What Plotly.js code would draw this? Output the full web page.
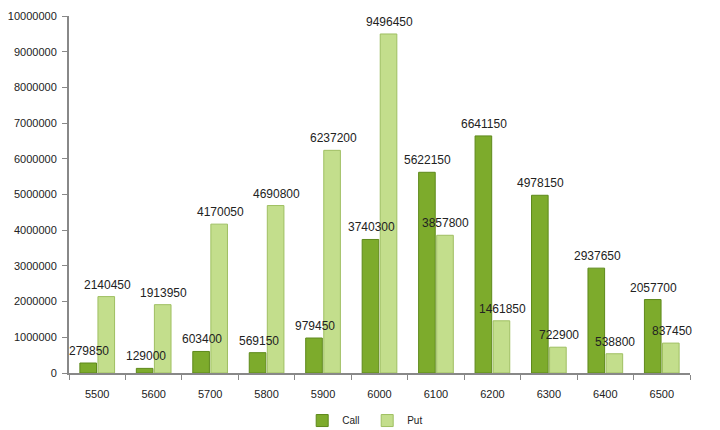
<!DOCTYPE html>
<html><head><meta charset="utf-8">
<script src="https://cdn.plot.ly/plotly-3.0.1.min.js"></script>
<style>html,body{margin:0;padding:0;background:#fff}#c{width:720px;height:430px}</style>
</head><body><div id="c"></div>
<script>
const strikes = ['5500','5600','5700','5800','5900','6000','6100','6200','6300','6400','6500'];
const callValues = [279850,129000,603400,569150,979450,3740300,5622150,6641150,4978150,2937650,2057700];
const putValues = [2140450,1913950,4170050,4690800,6237200,9496450,3857800,1461850,722900,538800,837450];
const yTicks = [0,1000000,2000000,3000000,4000000,5000000,6000000,7000000,8000000,9000000,10000000];

const font = "'Liberation Sans Narrow', 'Arial Narrow', 'Liberation Sans', Arial, sans-serif";
const data = [
  {type:'bar', name:'Call', x:strikes, y:callValues, textposition:'none',
   marker:{color:'#7dab2c', line:{color:'#5e891b', width:1}}},
  {type:'bar', name:'Put', x:strikes, y:putValues, textposition:'none',
   marker:{color:'#c3de8c', line:{color:'#9fbf62', width:1}}}
];
const annotations = [];
strikes.forEach((s, i) => {
  annotations.push({x:i, y:callValues[i], xref:'x', yref:'y', text:String(callValues[i]), showarrow:false,
    xshift:-8, yshift:3, yanchor:'bottom', font:{family:font, size:12, color:'#222'}});
  annotations.push({x:i, y:putValues[i], xref:'x', yref:'y', text:String(putValues[i]), showarrow:false,
    xshift:10, yshift:3, yanchor:'bottom', font:{family:font, size:12, color:'#222'}});
});
const layout = {
  width:720, height:430,
  margin:{l:69, r:30, t:16, b:57, autoexpand:false},
  paper_bgcolor:'#fff', plot_bgcolor:'#fff',
  barmode:'group', bargap:0.36, bargroupgap:0.08,
  annotations: annotations,
  showlegend:true,
  legend:{orientation:'h', x:0.51, xanchor:'center', xref:'container', yref:'container', y:0.022, yanchor:'middle',
          font:{family:font, size:10, color:'#222'}, itemwidth:30, entrywidth:20, entrywidthmode:'pixels'},
  xaxis:{type:'category', range:[-0.5, strikes.length-0.5], tickson:'boundaries', ticks:'outside', ticklen:5, tickcolor:'#888',
         showline:true, linecolor:'#888', linewidth:2, showgrid:false, ticklabelstandoff:10,
         tickfont:{family:font, size:11, color:'#222'}},
  yaxis:{range:[0,10000000], tickvals:yTicks, ticktext:yTicks.map(String),
         ticks:'outside', ticklen:5, tickcolor:'#888', showline:true, linecolor:'#888', linewidth:2,
         showgrid:false, zeroline:false, ticklabelstandoff:3, tickfont:{family:font, size:11, color:'#222'}}
};
Plotly.newPlot('c', data, layout, {displayModeBar:false, staticPlot:true});
</script></body></html>
